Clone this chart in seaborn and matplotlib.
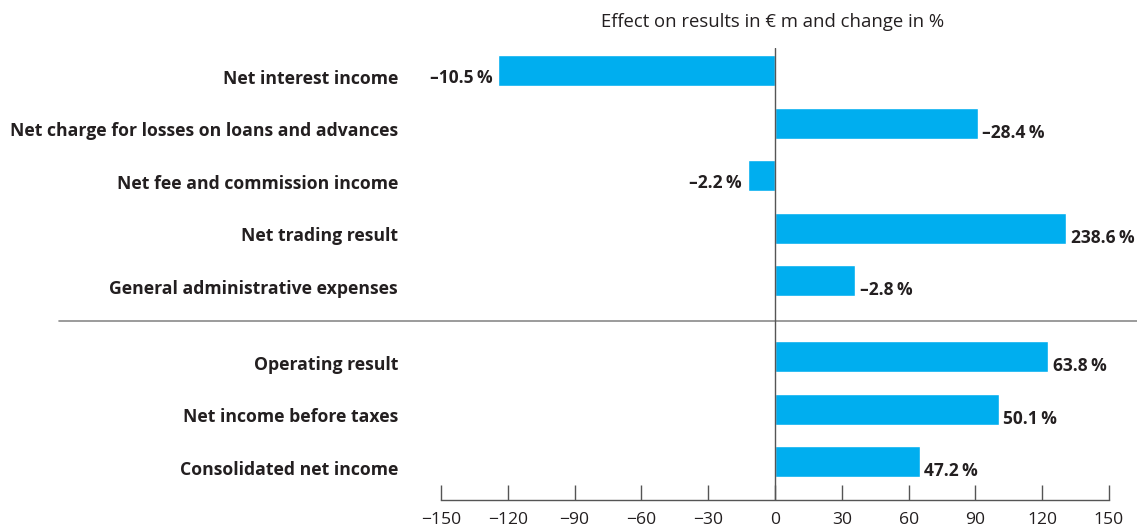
import numpy as np
import pandas as pd
import matplotlib
matplotlib.use("Agg")
import matplotlib.pyplot as plt
from matplotlib.transforms import ScaledTranslation
import seaborn as sns

categories = [
    "Net interest income",
    "Net charge for losses on loans and advances",
    "Net fee and commission income",
    "Net trading result",
    "General administrative expenses",
    "Operating result",
    "Net income before taxes",
    "Consolidated net income",
]
effect_eur_m = [-124.2, 91.2, -12.3, 130.9, 36.1, 122.8, 100.7, 64.9]
change_labels = ["\u201310.5\u2009%", "\u201328.4\u2009%", "\u20132.2\u2009%", "238.6\u2009%",
                 "\u20132.8\u2009%", "63.8\u2009%", "50.1\u2009%", "47.2\u2009%"]
x_ticks = [-150, -120, -90, -60, -30, 0, 30, 60, 90, 120, 150]
title = "Effect on results in \u20ac m and change in %"

# group split: first five are components, last three are results
n_components = 5
gap = 0.45
pos = [i if i < n_components else i + gap for i in range(len(categories))]

df = pd.DataFrame({"category": categories, "value": effect_eur_m, "pos": pos})

sns.set_theme(style="white")
plt.rcParams["font.family"] = ["Open Sans", "DejaVu Sans"]

W, H = 1137, 526
fig = plt.figure(figsize=(W / 100, H / 100), dpi=100)
left, right, top, bottom = 441, 1109, 48, 500
ax = fig.add_axes([left / W, 1 - bottom / H, (right - left) / W, (bottom - top) / H])

bar_color = "#00AEEF"
text_color = "#231f20"
sns.barplot(data=df, x="value", y="pos", orient="h", native_scale=True,
            color=bar_color, saturation=1, width=0.59, ax=ax)

ax.set_xlim(-150, 150)
ax.set_ylim(8.18, -0.43)
ax.set_xticks(x_ticks)
ax.set_xticklabels([str(t).replace("-", "\u2212") for t in x_ticks])
ax.set_yticks(pos)
ax.set_yticklabels(categories, fontweight="bold", fontsize=12.7, color=text_color)
ax.set_xlabel("")
ax.set_ylabel("")

for s in ["top", "right", "left"]:
    ax.spines[s].set_visible(False)
ax.spines["bottom"].set_color("#555555")
ax.spines["bottom"].set_linewidth(1)
ax.tick_params(axis="x", direction="in", length=11, width=1, color="#555555",
               labelsize=12.6, labelcolor=text_color, pad=8.5, bottom=True)
ax.tick_params(axis="y", length=0, pad=31)

shift = ScaledTranslation(0, -6 / 100, fig.dpi_scale_trans)
for lab in ax.get_yticklabels():
    lab.set_transform(lab.get_transform() + shift)

# zero line
ax.axvline(0, color="#555555", lw=1, zorder=3)
# separator between components and results
sep_y = (n_components - 1 + n_components + gap) / 2 + 0.04
ax.axhline(sep_y, xmin=(59 - left) / (right - left), xmax=(W - left) / (right - left),
           color="#8a8a8a", lw=1.2, clip_on=False)

for p, v, lab in zip(pos, effect_eur_m, change_labels):
    if v >= 0:
        ax.annotate(lab, (v, p), xytext=(3, -7), textcoords="offset points",
                    ha="left", va="center", fontweight="bold", fontsize=12.5, color=text_color)
    else:
        ax.annotate(lab, (v, p), xytext=(-4, -5), textcoords="offset points",
                    ha="right", va="center", fontweight="bold", fontsize=12.5, color=text_color)

fig.text(773 / W, 1 - 22 / H, title, ha="center", va="center", fontsize=13.3, color=text_color)

fig.savefig("out.png", dpi=100)
